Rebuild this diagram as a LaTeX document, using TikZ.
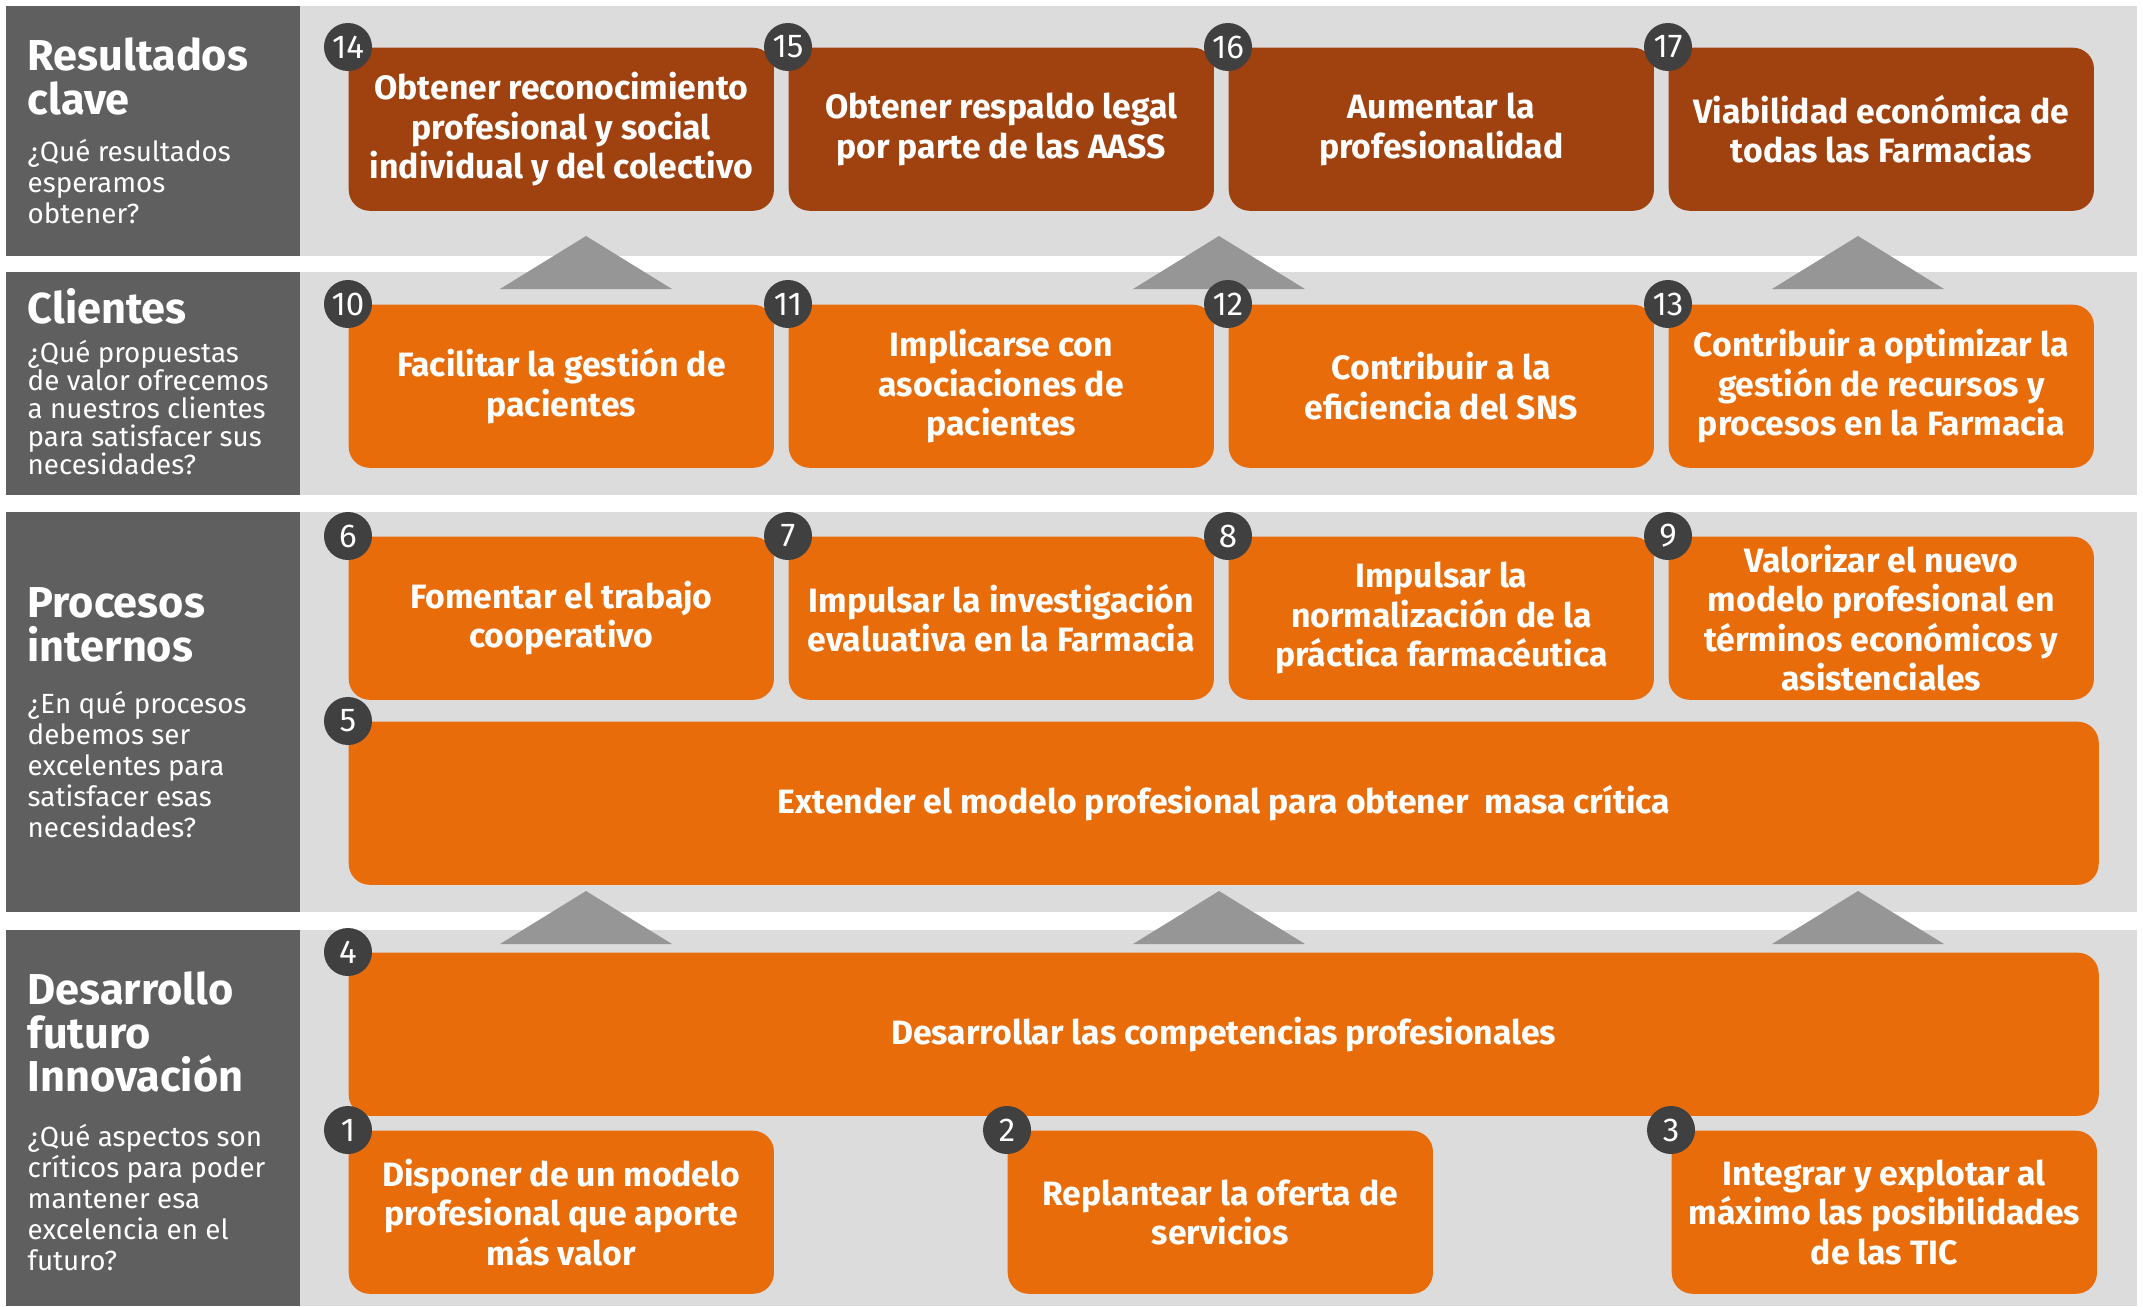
\documentclass[tikz,border=0pt]{standalone}
\usepackage{fontspec}
\setmainfont{Fira Sans}
\definecolor{panel}{HTML}{5F5F5F}
\definecolor{banda}{HTML}{DCDCDC}
\definecolor{marron}{HTML}{A04110}
\definecolor{naranja}{HTML}{E96C0B}
\definecolor{chapa}{HTML}{404040}
\definecolor{flecha}{HTML}{969696}
\newcommand{\cajafont}{\fontsize{9.6}{11.2}\selectfont\bfseries}
\newcommand{\cifrafont}{\fontsize{9.4}{9.4}\selectfont}
\newcommand{\titulofont}{\fontsize{12.3}{12.4}\selectfont\bfseries}
\newcommand{\preguntafont}{\fontsize{7.9}{8.8}\selectfont}

\begin{document}
\begin{tikzpicture}[x=0.01cm, y=-0.01cm]
				\tikzstyle{caja} = [anchor=north west, rounded corners=0.21cm, minimum width=4.25cm, minimum height=1.63cm, inner sep=0pt, align=center, text=white, font=\cajafont]
				\tikzstyle{resultado} = [caja, fill=marron]
				\tikzstyle{objetivo} = [caja, fill=naranja]
				\tikzstyle{ancho} = [objetivo, minimum width=17.49cm]
				\tikzstyle{cifra} = [circle, fill=chapa, text=white, minimum size=0.48cm, inner sep=0pt, font=\cifrafont]
				\tikzstyle{titulo} = [anchor=north west, inner sep=0pt, align=left, text=white, font=\titulofont]
				\tikzstyle{pregunta} = [anchor=north west, inner sep=0pt, align=left, text=white, font=\preguntafont]
				
				\useasboundingbox (0, 0) rectangle (2143, 1306);
				\foreach \ya/\yb in {6/256, 272/495, 512/912, 930/1306} {
					\fill[panel] (6, \ya) rectangle (300, \yb);
					\fill[banda] (300, \ya) rectangle (2137, \yb);
				}
				\foreach \x in {586, 1219, 1858} {
					\fill[flecha] (\x, 236) -- ++(-86, 53) -- ++(172, 0) -- cycle;
					\fill[flecha] (\x, 891) -- ++(-86, 53) -- ++(172, 0) -- cycle;
				}
				
				\node[titulo]	at (27, 37)		(t1)	{Resultados\\clave};
				\node[pregunta]	at (27, 139)	(p1)	{¿Qué resultados\\esperamos\\obtener?};
				\node[titulo]	at (27, 288)	(t2)	{Clientes};
				\node[pregunta, font=\fontsize{7.9}{7.9}\selectfont]	at (27, 340)	(p2)	{¿Qué propuestas\\de valor ofrecemos\\a nuestros clientes\\para satisfacer sus\\necesidades?};
				\node[titulo]	at (27, 587)	(t3)	{Procesos\\internos};
				\node[pregunta]	at (27, 691)	(p3)	{¿En qué procesos\\debemos ser\\excelentes para\\satisfacer esas\\necesidades?};
				\node[titulo]	at (27, 971)	(t4)	{Desarrollo\\futuro\\Innovación};
				\node[pregunta]	at (27, 1124)	(p4)	{¿Qué aspectos son\\críticos para poder\\mantener esa\\excelencia en el\\futuro?};
				
				\node[resultado]	at (348, 47)	(r14)	{Obtener reconocimiento\\profesional y social\\individual y del colectivo};
				\node[resultado]	at (788, 47)	(r15)	{Obtener respaldo legal\\por parte de las AASS};
				\node[resultado]	at (1228, 47)	(r16)	{Aumentar la\\profesionalidad};
				\node[resultado]	at (1668, 47)	(r17)	{Viabilidad económica de\\todas las Farmacias};
				
				\node[objetivo]	at (348, 304)	(c10)	{Facilitar la gestión de\\pacientes};
				\node[objetivo]	at (788, 304)	(c11)	{Implicarse con\\asociaciones de\\pacientes};
				\node[objetivo]	at (1228, 304)	(c12)	{Contribuir a la\\eficiencia del SNS};
				\node[objetivo]	at (1668, 304)	(c13)	{Contribuir a optimizar la\\gestión de recursos y\\procesos en la Farmacia};
				
				\node[objetivo]	at (348, 536)	(i6)	{Fomentar el trabajo\\cooperativo};
				\node[objetivo]	at (788, 536)	(i7)	{Impulsar la investigación\\evaluativa en la Farmacia};
				\node[objetivo]	at (1228, 536)	(i8)	{Impulsar la\\normalización de la\\práctica farmacéutica};
				\node[objetivo]	at (1668, 536)	(i9)	{Valorizar el nuevo\\modelo profesional en\\términos económicos y\\asistenciales};
				\node[ancho]	at (348, 721)	(i5)	{Extender el modelo profesional para obtener\ \ masa crítica};
				
				\node[ancho]	at (348, 952)	(d4)	{Desarrollar las competencias profesionales};
				\node[objetivo]	at (348, 1130)	(d1)	{Disponer de un modelo\\profesional que aporte\\más valor};
				\node[objetivo]	at (1007, 1130)	(d2)	{Replantear la oferta de\\servicios};
				\node[objetivo]	at (1671, 1130)	(d3)	{Integrar y explotar al\\máximo las posibilidades\\de las TIC};
				
				\foreach \n/\b in {14/r14, 15/r15, 16/r16, 17/r17, 10/c10, 11/c11, 12/c12, 13/c13, 6/i6, 7/i7, 8/i8, 9/i9, 5/i5, 4/d4, 1/d1, 2/d2, 3/d3}
					\node[cifra] at (\b.north west) (n\n) {\n};
\end{tikzpicture}
\end{document}
